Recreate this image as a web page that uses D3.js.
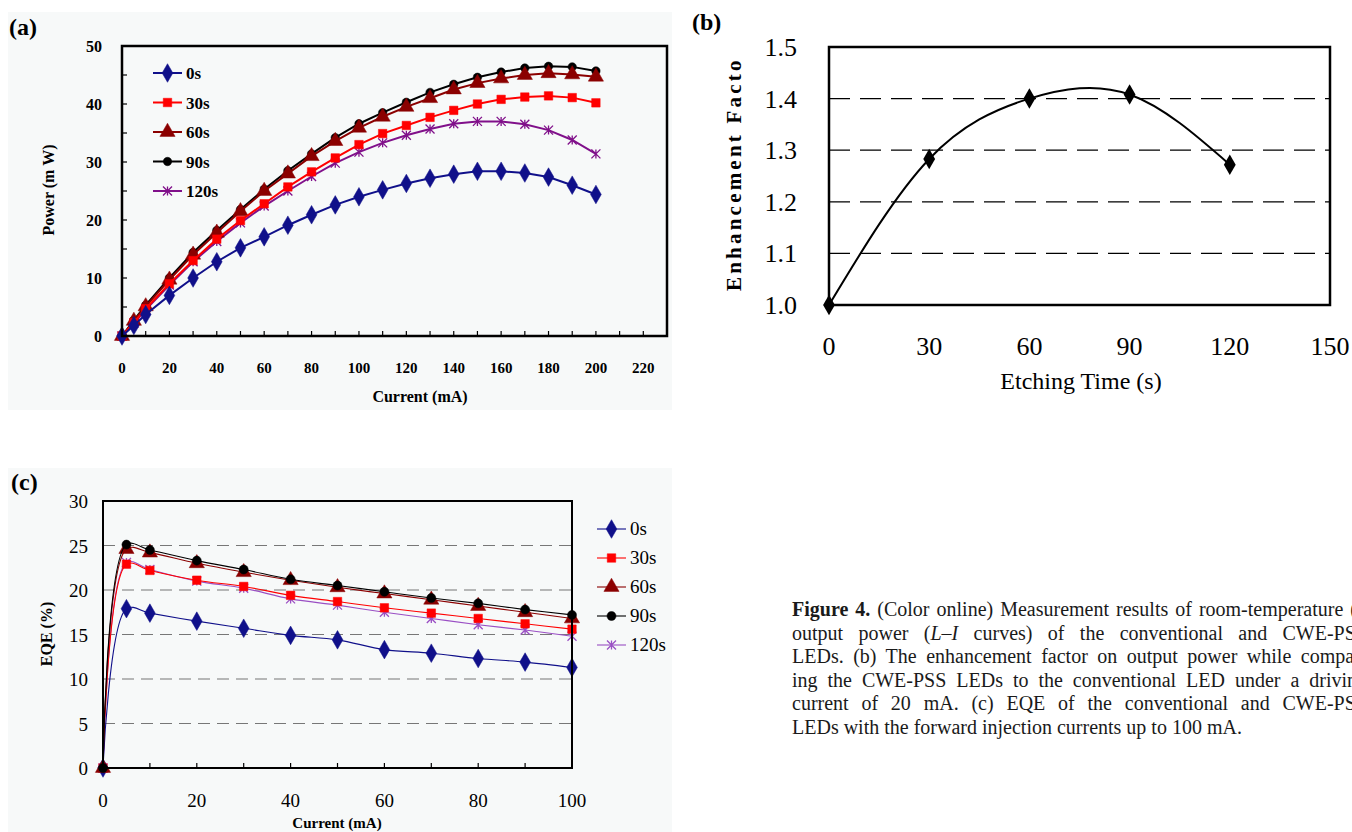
<!DOCTYPE html>
<html>
<head>
<meta charset="utf-8">
<script src="https://cdn.jsdelivr.net/npm/d3@7"></script>
<style>
  body { margin: 0; background: #fff; }
  svg { display: block; }
</style>
</head>
<body>
<svg id="fig" width="1352" height="832"></svg>
<script>
// ---- data ----
const seriesNames = ["0s", "30s", "60s", "90s", "120s"];

// (a) L-I curves
const powerCurrent = [0, 5, 10, 20, 30, 40, 50, 60, 70, 80, 90, 100, 110, 120, 130, 140, 150, 160, 170, 180, 190, 200];
const power0s   = [0, 1.8, 3.7, 7.0, 10.0, 12.8, 15.2, 17.1, 19.1, 20.9, 22.6, 24.0, 25.2, 26.3, 27.2, 27.9, 28.4, 28.4, 28.1, 27.4, 26.0, 24.4];
const power30s  = [0, 2.3, 4.7, 9.0, 13.0, 16.7, 19.9, 22.8, 25.7, 28.3, 30.7, 33.0, 34.9, 36.3, 37.7, 38.9, 40.0, 40.8, 41.2, 41.4, 41.1, 40.2];
const power60s  = [0, 2.6, 5.1, 9.7, 14.0, 17.8, 21.5, 25.0, 28.0, 31.0, 33.6, 35.9, 37.8, 39.5, 41.0, 42.5, 43.6, 44.4, 45.0, 45.3, 45.1, 44.7];
const power90s  = [0, 2.7, 5.3, 10.0, 14.4, 18.2, 21.8, 25.3, 28.5, 31.4, 34.2, 36.6, 38.5, 40.3, 42.0, 43.4, 44.6, 45.5, 46.2, 46.5, 46.4, 45.7];
const power120s = [0, 2.2, 4.5, 8.8, 12.8, 16.3, 19.5, 22.4, 25.0, 27.5, 29.8, 31.7, 33.3, 34.6, 35.7, 36.6, 37.0, 37.0, 36.5, 35.5, 33.8, 31.4];
const powerXTicks = [0, 20, 40, 60, 80, 100, 120, 140, 160, 180, 200, 220];
const powerXMinor = d3.range(0, 230, 10);
const powerYTicks = [0, 10, 20, 30, 40, 50];
const powerYMinor = d3.range(0, 50, 5);

// (b) enhancement factor
const etchTime = [0, 30, 60, 90, 120];
const enhancement = [1.0, 1.283, 1.40, 1.408, 1.272];
const etchXTicks = [0, 30, 60, 90, 120, 150];
const etchYTicks = [1.0, 1.1, 1.2, 1.3, 1.4, 1.5];
const etchGrid = [1.1, 1.2, 1.3, 1.4];

// (c) EQE
const eqeCurrent = [0, 5, 10, 20, 30, 40, 50, 60, 70, 80, 90, 100];
const eqe0s   = [0, 17.9, 17.4, 16.5, 15.7, 14.9, 14.4, 13.3, 12.9, 12.3, 11.9, 11.3];
const eqe30s  = [0, 22.9, 22.2, 21.1, 20.4, 19.4, 18.7, 18.0, 17.4, 16.8, 16.2, 15.6];
const eqe60s  = [0, 24.6, 24.2, 23.0, 22.0, 21.1, 20.3, 19.6, 18.9, 18.2, 17.5, 16.8];
const eqe90s  = [0, 25.1, 24.5, 23.3, 22.3, 21.2, 20.5, 19.8, 19.1, 18.5, 17.8, 17.2];
const eqe120s = [0, 23.1, 22.3, 21.0, 20.2, 19.0, 18.3, 17.5, 16.8, 16.1, 15.5, 14.8];
const eqeXTicks = [0, 20, 40, 60, 80, 100];
const eqeXMinor = d3.range(0, 101, 10);
const eqeYTicks = [0, 5, 10, 15, 20, 25, 30];
const eqeGrid = [5, 10, 15, 20, 25];

const captionLines = [
  [["Figure 4.", "b"], [" (Color online) Measurement results of room-temperature (a)", ""]],
  [["output power (", ""], ["L", "i"], ["–", ""], ["I", "i"], [" curves) of the conventional and CWE-PSS", ""]],
  [["LEDs. (b) The enhancement factor on output power while compar-", ""]],
  [["ing the CWE-PSS LEDs to the conventional LED under a driving", ""]],
  [["current of 20 mA. (c) EQE of the conventional and CWE-PSS", ""]],
  [["LEDs with the forward injection currents up to 100 mA.", ""]]
];

const svg = d3.select("#fig");
const serif = "'Liberation Serif', 'DejaVu Serif', serif";

const asterisk = (s) => `M${-s},${-s}L${s},${s}M${-s},${s}L${s},${-s}M0,${-s}L0,${s}`;
const marker = (type, size) => {
  if (type === "star") return asterisk(size * 0.45);
  const t = { diamond: d3.symbolDiamond, square: d3.symbolSquare, triangle: d3.symbolTriangle, circle: d3.symbolCircle }[type];
  return d3.symbol(t, size * size)();
};

const drawSeries = (g, x, y, xs, ys, style, curve) => {
  const pts = xs.map((v, i) => [x(v), y(ys[i])]);
  g.append("path")
    .attr("d", d3.line().curve(curve)(pts))
    .attr("fill", "none")
    .attr("stroke", style.color)
    .attr("stroke-width", style.width);
  g.selectAll(null)
    .data(pts)
    .enter()
    .append("path")
      .attr("transform", d => `translate(${d[0]},${d[1]})`)
      .attr("d", marker(style.shape, style.size))
      .attr("fill", style.shape === "star" ? "none" : style.color)
      .attr("stroke", style.color)
      .attr("stroke-width", style.shape === "star" ? 1.3 : 0.5);
};

const legend = (g, x0, y0, dy, styles, font) => {
  styles.forEach((s, i) => {
    const yy = y0 + i * dy;
    g.append("line").attr("x1", x0).attr("x2", x0 + 29).attr("y1", yy).attr("y2", yy)
      .attr("stroke", s.color).attr("stroke-width", s.width);
    g.append("path").attr("transform", `translate(${x0 + 14.5},${yy})`)
      .attr("d", marker(s.shape, s.size))
      .attr("fill", s.shape === "star" ? "none" : s.color)
      .attr("stroke", s.color).attr("stroke-width", s.shape === "star" ? 1.3 : 0.5);
    g.append("text").attr("x", x0 + 33).attr("y", yy + 6)
      .attr("font-family", serif).attr("font-size", font.size).attr("font-weight", font.weight)
      .text(seriesNames[i]);
  });
};

// panel backgrounds
svg.append("rect").attr("x", 8).attr("y", 12).attr("width", 664).attr("height", 398).attr("fill", "#f7f9f9");
svg.append("rect").attr("x", 8).attr("y", 468).attr("width", 664).attr("height", 364).attr("fill", "#f7f9f9");

// ---------- (a) ----------
const panelA = () => {
  const g = svg.append("g");
  const x = d3.scaleLinear().domain([0, 230]).range([122, 667]);
  const y = d3.scaleLinear().domain([0, 50]).range([336, 46]);
  const styles = [
    { color: "#10108a", width: 2, shape: "diamond", size: 10 },
    { color: "#ff0000", width: 2, shape: "square", size: 8.5 },
    { color: "#8b0000", width: 2, shape: "triangle", size: 10 },
    { color: "#000000", width: 2, shape: "circle", size: 7.5 },
    { color: "#80108a", width: 2, shape: "star", size: 10 }
  ];
  const data = [power0s, power30s, power60s, power90s, power120s];

  g.selectAll(null).data(powerXMinor).enter().append("line")
    .attr("x1", d => x(d)).attr("x2", d => x(d)).attr("y1", y(0)).attr("y2", y(0) - 5)
    .attr("stroke", "#000").attr("stroke-width", 1.2);
  g.selectAll(null).data(powerYMinor).enter().append("line")
    .attr("x1", x(0)).attr("x2", x(0) + 5).attr("y1", d => y(d)).attr("y2", d => y(d))
    .attr("stroke", "#000").attr("stroke-width", 1.2);

  [4, 3, 2, 1, 0].forEach(i => drawSeries(g, x, y, powerCurrent, data[i], styles[i], d3.curveLinear));

  g.append("rect").attr("x", x(0)).attr("y", y(50)).attr("width", x(230) - x(0)).attr("height", y(0) - y(50))
    .attr("fill", "none").attr("stroke", "#000").attr("stroke-width", 2.5);

  g.selectAll(null).data(powerYTicks).enter().append("text")
    .attr("x", 102).attr("y", d => y(d) + 6).attr("text-anchor", "end")
    .attr("font-family", serif).attr("font-weight", "bold").attr("font-size", 16)
    .text(d => d);
  g.selectAll(null).data(powerXTicks).enter().append("text")
    .attr("x", d => x(d)).attr("y", 373).attr("text-anchor", "middle")
    .attr("font-family", serif).attr("font-weight", "bold").attr("font-size", 15)
    .text(d => d);

  g.append("text").attr("x", 420).attr("y", 402).attr("text-anchor", "middle")
    .attr("font-family", serif).attr("font-weight", "bold").attr("font-size", 16)
    .text("Current (mA)");
  g.append("text").attr("transform", "translate(54,190) rotate(-90)").attr("text-anchor", "middle")
    .attr("font-family", serif).attr("font-weight", "bold").attr("font-size", 16)
    .text("Power (m W)");

  legend(g, 153, 73, 29.5, styles, { size: 17, weight: "bold" });
};

// ---------- (b) ----------
const panelB = () => {
  const g = svg.append("g");
  const x = d3.scaleLinear().domain([0, 150]).range([829, 1330]);
  const y = d3.scaleLinear().domain([1.0, 1.5]).range([305, 47]);

  g.selectAll(null).data(etchGrid).enter().append("line")
    .attr("x1", x(0)).attr("x2", x(150)).attr("y1", d => y(d)).attr("y2", d => y(d))
    .attr("stroke", "#000").attr("stroke-width", 1.3).attr("stroke-dasharray", "21,10");

  const pts = etchTime.map((t, i) => [x(t), y(enhancement[i])]);
  g.append("path").attr("d", d3.line().curve(d3.curveNatural)(pts))
    .attr("fill", "none").attr("stroke", "#000").attr("stroke-width", 2);
  g.selectAll(null).data(pts).enter().append("path")
    .attr("transform", d => `translate(${d[0]},${d[1]})`)
    .attr("d", marker("diamond", 11)).attr("fill", "#000");

  g.append("rect").attr("x", x(0)).attr("y", y(1.5)).attr("width", x(150) - x(0)).attr("height", y(1.0) - y(1.5))
    .attr("fill", "none").attr("stroke", "#000").attr("stroke-width", 2.5);

  g.selectAll(null).data(etchYTicks).enter().append("text")
    .attr("x", 797).attr("y", d => y(d) + 9).attr("text-anchor", "end")
    .attr("font-family", serif).attr("font-size", 26)
    .text(d => d3.format(".1f")(d));
  g.selectAll(null).data(etchXTicks).enter().append("text")
    .attr("x", d => x(d)).attr("y", 355).attr("text-anchor", "middle")
    .attr("font-family", serif).attr("font-size", 26)
    .text(d => d);

  g.append("text").attr("x", 1081).attr("y", 389).attr("text-anchor", "middle")
    .attr("font-family", serif).attr("font-size", 24)
    .text("Etching Time (s)");

  svg.append("clipPath").attr("id", "clipB").append("rect")
    .attr("x", 700).attr("y", 58).attr("width", 80).attr("height", 260);
  g.append("g").attr("clip-path", "url(#clipB)")
    .append("text")
    .attr("transform", "translate(741,291) rotate(-90)")
    .attr("font-family", serif).attr("font-weight", "bold").attr("font-size", 21)
    .attr("textLength", 243).attr("lengthAdjust", "spacing")
    .text("Enhancement Factor");
};

// ---------- (c) ----------
const panelC = () => {
  const g = svg.append("g");
  const x = d3.scaleLinear().domain([0, 100]).range([103, 572]);
  const y = d3.scaleLinear().domain([0, 30]).range([768, 501]);
  const styles = [
    { color: "#10108a", width: 1.1, shape: "diamond", size: 10 },
    { color: "#ff0000", width: 1.1, shape: "square", size: 8.5 },
    { color: "#8b0000", width: 1.1, shape: "triangle", size: 10 },
    { color: "#000000", width: 1.1, shape: "circle", size: 8 },
    { color: "#9a4fc4", width: 1.1, shape: "star", size: 10 }
  ];
  const data = [eqe0s, eqe30s, eqe60s, eqe90s, eqe120s];

  g.selectAll(null).data(eqeGrid).enter().append("line")
    .attr("x1", x(0)).attr("x2", x(100)).attr("y1", d => y(d)).attr("y2", d => y(d))
    .attr("stroke", "#777").attr("stroke-width", 1.2).attr("stroke-dasharray", "12,7");
  g.selectAll(null).data(eqeXMinor).enter().append("line")
    .attr("x1", d => x(d)).attr("x2", d => x(d)).attr("y1", y(0)).attr("y2", y(0) - 5)
    .attr("stroke", "#000").attr("stroke-width", 1.2);

  [4, 1, 0, 2, 3].forEach(i => drawSeries(g, x, y, eqeCurrent, data[i], styles[i], d3.curveCatmullRom.alpha(0.5)));

  g.append("rect").attr("x", x(0)).attr("y", y(30)).attr("width", x(100) - x(0)).attr("height", y(0) - y(30))
    .attr("fill", "none").attr("stroke", "#000").attr("stroke-width", 2);

  g.selectAll(null).data(eqeYTicks).enter().append("text")
    .attr("x", 88).attr("y", d => y(d) + 7).attr("text-anchor", "end")
    .attr("font-family", serif).attr("font-size", 19)
    .text(d => d);
  g.selectAll(null).data(eqeXTicks).enter().append("text")
    .attr("x", d => x(d)).attr("y", 807).attr("text-anchor", "middle")
    .attr("font-family", serif).attr("font-size", 19)
    .text(d => d);

  g.append("text").attr("x", 337).attr("y", 828).attr("text-anchor", "middle")
    .attr("font-family", serif).attr("font-weight", "bold").attr("font-size", 15)
    .text("Current (mA)");
  g.append("text").attr("transform", "translate(52,634) rotate(-90)").attr("text-anchor", "middle")
    .attr("font-family", serif).attr("font-weight", "bold").attr("font-size", 16)
    .text("EQE (%)");

  legend(g, 597, 529, 29, styles, { size: 19, weight: "normal" });
};

// ---------- panel letters and caption ----------
const labels = () => {
  [["(a)", 9, 35], ["(b)", 692, 30], ["(c)", 11, 490]].forEach(([t, lx, ly]) => {
    svg.append("text").attr("x", lx).attr("y", ly)
      .attr("font-family", serif).attr("font-weight", "bold").attr("font-size", 24)
      .text(t);
  });

  // justified column; its right edge runs a little past the page, as in the scan
  const colWidth = 575;
  captionLines.forEach((parts, i) => {
    const t = svg.append("text").attr("x", 792).attr("y", 616 + i * 23.6)
      .attr("font-family", serif).attr("font-size", 20).attr("fill", "#1a1a1a");
    parts.forEach(([txt, st]) => {
      t.append("tspan")
        .attr("font-weight", st === "b" ? "bold" : null)
        .attr("font-style", st === "i" ? "italic" : null)
        .text(txt);
    });
    if (i === 0) {
      t.attr("word-spacing", 2);
    } else if (i < captionLines.length - 1) {
      const full = parts.map(p => p[0]).join("");
      const spaces = (full.match(/ /g) || []).length;
      const w = t.node().getComputedTextLength();
      t.attr("word-spacing", Math.max(0, (colWidth - w) / spaces));
    }
  });
};

panelA();
panelB();
panelC();
labels();
</script>
</body>
</html>
